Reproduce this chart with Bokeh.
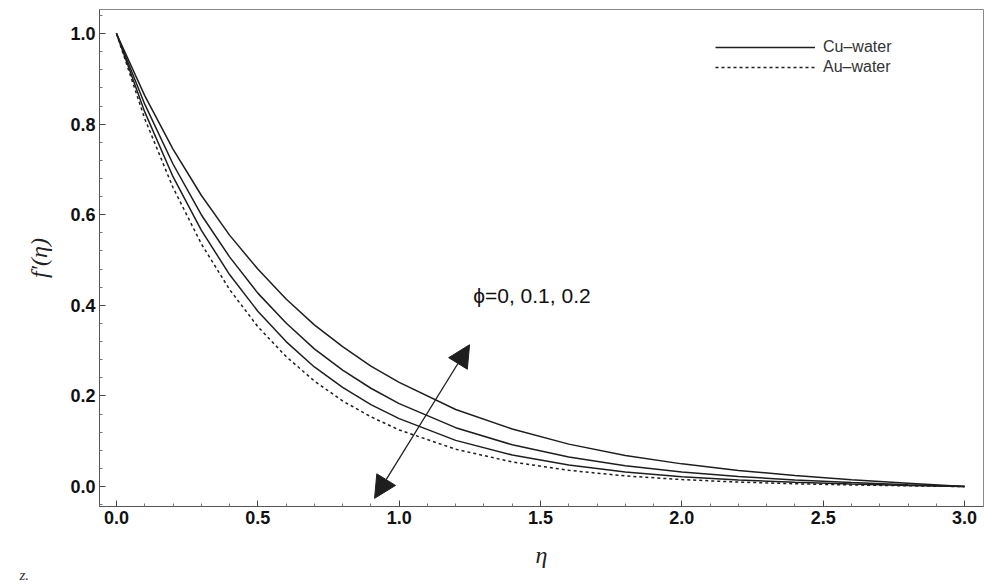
from bokeh.plotting import figure
from bokeh.models import (Range1d, FixedTicker, Legend, LegendItem, Label, Arrow,
                          NormalHead)
from bokeh.embed import file_html
from bokeh.resources import INLINE

# ---- data ----
eta = [0.0, 0.1, 0.2, 0.3, 0.4, 0.5, 0.6, 0.7, 0.8, 0.9, 1.0,
       1.2, 1.4, 1.6, 1.8, 2.0, 2.2, 2.4, 2.6, 2.8, 3.0]

cu_phi0 = [1.0, 0.863, 0.745, 0.643, 0.555, 0.480, 0.414, 0.357, 0.309, 0.266, 0.230,
           0.170, 0.127, 0.0937, 0.0688, 0.0501, 0.0357, 0.0244, 0.0151, 0.0073, 0.0]
cu_phi01 = [1.0, 0.844, 0.712, 0.600, 0.507, 0.427, 0.361, 0.304, 0.257, 0.217, 0.183,
            0.130, 0.0922, 0.0653, 0.0461, 0.0323, 0.0222, 0.0147, 0.0089, 0.0042, 0.0]
cu_phi02 = [1.0, 0.827, 0.684, 0.566, 0.468, 0.387, 0.320, 0.264, 0.219, 0.181, 0.150,
            0.102, 0.0697, 0.0476, 0.0324, 0.0219, 0.0146, 0.0094, 0.0056, 0.0026, 0.0]
au_phi02 = [1.0, 0.812, 0.660, 0.536, 0.435, 0.353, 0.287, 0.233, 0.189, 0.154, 0.125,
            0.0824, 0.0543, 0.0358, 0.0235, 0.0154, 0.0099, 0.0062, 0.0036, 0.0017, 0.0]

x_ticks = [0.0, 0.5, 1.0, 1.5, 2.0, 2.5, 3.0]
x_minor = [0.1, 0.2, 0.3, 0.4, 0.6, 0.7, 0.8, 0.9, 1.1, 1.2, 1.3, 1.4, 1.6, 1.7, 1.8, 1.9,
           2.1, 2.2, 2.3, 2.4, 2.6, 2.7, 2.8, 2.9]
y_ticks = [0.0, 0.2, 0.4, 0.6, 0.8, 1.0]
y_minor = [-0.04, 0.04, 0.08, 0.12, 0.16, 0.24, 0.28, 0.32, 0.36, 0.44, 0.48, 0.52, 0.56,
           0.64, 0.68, 0.72, 0.76, 0.84, 0.88, 0.92, 0.96, 1.04]

# annotation placement
ARROW_LOW = (0.913, -0.026)
ARROW_HIGH = (1.249, 0.313)
PHI_TEXT_POS = (1.262, 0.421)
STRAY_SCREEN = (-80, 12)   # px inside the panel below the x axis

p = figure(width=984, height=586, output_backend="svg", toolbar_location=None,
           x_range=Range1d(-0.06, 3.067), y_range=Range1d(-0.044, 1.053),
           min_border_left=99, min_border_right=1, min_border_top=9, min_border_bottom=79,
           background_fill_color="white", border_fill_color="white")
p.grid.visible = False
p.outline_line_color = "#8a8a8a"
p.outline_line_width = 1

for ax in (p.xaxis[0], p.yaxis[0]):
    ax.axis_line_color = "#555555"
    ax.major_tick_in = 6
    ax.major_tick_out = 0
    ax.minor_tick_in = 3
    ax.minor_tick_out = 0
    ax.major_tick_line_color = "#444444"
    ax.minor_tick_line_color = "#777777"
    ax.major_label_text_font = "Liberation Sans"
    ax.major_label_text_font_style = "bold"
    ax.major_label_text_font_size = "18px"
    ax.major_label_text_color = "#111111"
    ax.axis_label_text_font = "Liberation Serif"
    ax.axis_label_text_font_style = "italic"
    ax.axis_label_text_font_size = "24px"
    ax.axis_label_text_color = "#222222"

p.xaxis[0].ticker = FixedTicker(ticks=x_ticks, minor_ticks=x_minor)
p.yaxis[0].ticker = FixedTicker(ticks=y_ticks, minor_ticks=y_minor)
p.xaxis[0].major_label_overrides = {t: f"{t:.1f}" for t in x_ticks}
p.yaxis[0].major_label_overrides = {t: f"{t:.1f}" for t in y_ticks}
p.xaxis[0].major_label_standoff = 4
p.yaxis[0].major_label_standoff = 4
p.xaxis[0].axis_label = "η"
p.yaxis[0].axis_label = "f′(η)"
p.xaxis[0].axis_label_standoff = 15
p.yaxis[0].axis_label_standoff = 15

col = "#1e1e1e"
r1 = p.line(eta, cu_phi0, line_color=col, line_width=1.5)
p.line(eta, cu_phi01, line_color=col, line_width=1.5)
p.line(eta, cu_phi02, line_color=col, line_width=1.5)
r4 = p.line(eta, au_phi02, line_color=col, line_width=1.5, line_dash="3 3")

legend = Legend(items=[LegendItem(label="Cu\u2013water", renderers=[r1]),
                       LegendItem(label="Au\u2013water", renderers=[r4])],
                location=(611, 424), glyph_width=100, glyph_height=20,
                label_text_font="Liberation Sans", label_text_font_size="16px",
                label_text_color="#333333", label_height=20, spacing=0, padding=5,
                border_line_alpha=0, background_fill_alpha=0, label_standoff=8)
p.add_layout(legend)

p.add_layout(Arrow(x_start=ARROW_LOW[0], y_start=ARROW_LOW[1],
                   x_end=ARROW_HIGH[0], y_end=ARROW_HIGH[1],
                   line_color=col, line_width=1.3,
                   start=NormalHead(size=22, fill_color=col, line_color=col),
                   end=NormalHead(size=22, fill_color=col, line_color=col)))

p.add_layout(Label(x=PHI_TEXT_POS[0], y=PHI_TEXT_POS[1], text="ϕ=0, 0.1, 0.2",
                   text_font="Liberation Sans", text_font_size="21px",
                   text_color="#111111", text_baseline="middle", text_align="left"))

p.add_layout(Label(x=STRAY_SCREEN[0], y=STRAY_SCREEN[1], x_units="screen", y_units="screen",
                   text="z.", text_font="Liberation Serif",
                   text_font_style="italic", text_font_size="15px",
                   text_color="#333333", text_baseline="middle"), "below")

open("out.html", "w").write(file_html(p, INLINE))
